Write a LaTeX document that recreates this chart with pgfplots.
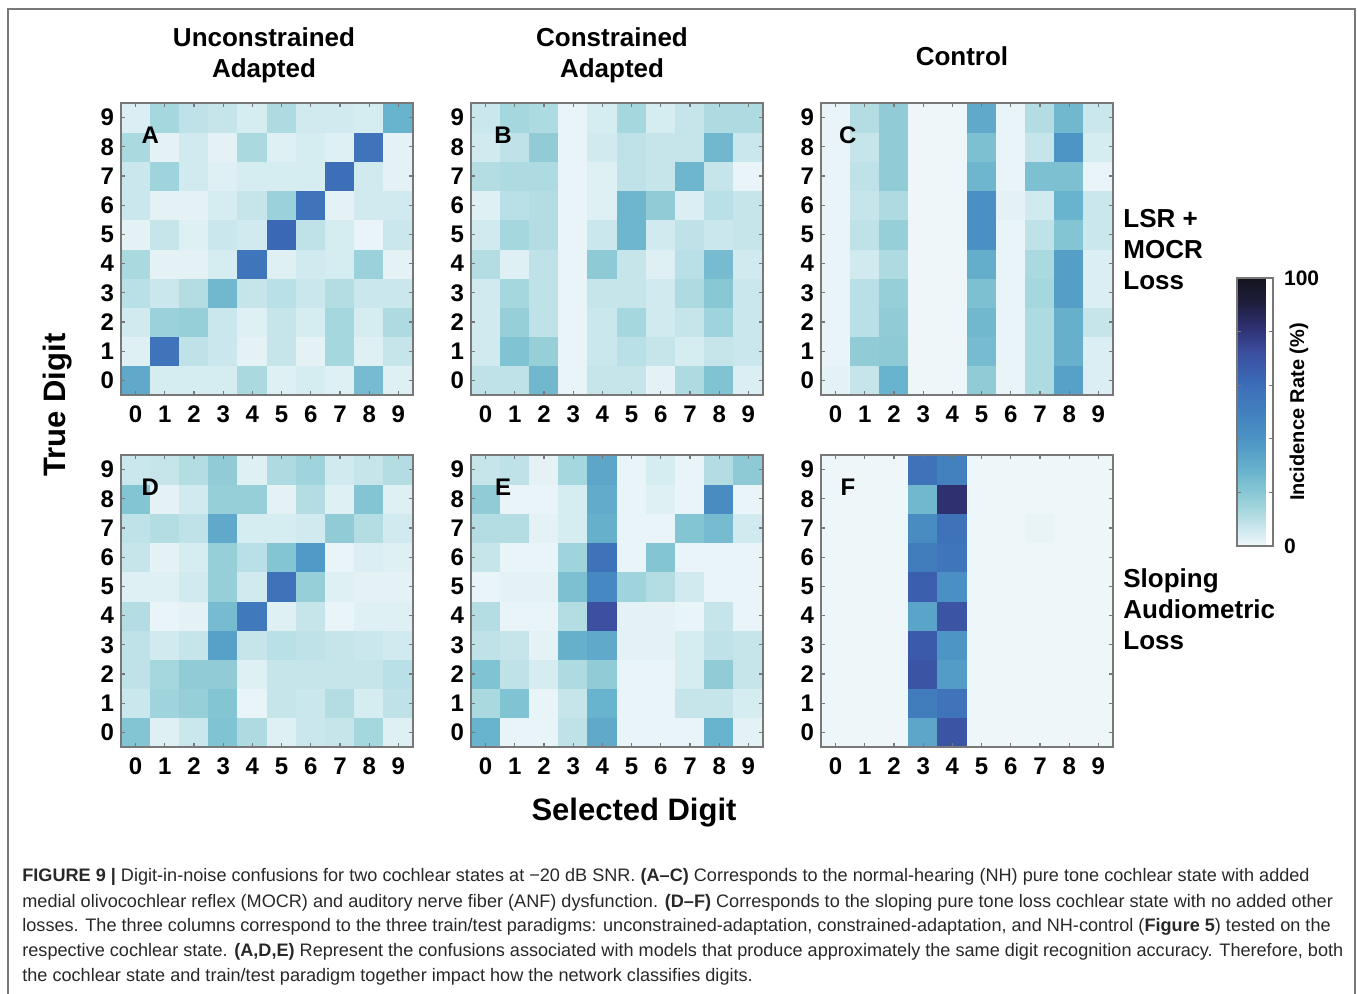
\documentclass[border=0pt]{standalone}
\usepackage{pgfplots}
\pgfplotsset{compat=1.18}
\usepackage{pgfplotstable}
\usepackage{fontspec}
\setmainfont{Liberation Sans}
\definecolor{framec}{RGB}{120,120,120}
\definecolor{captxt}{RGB}{40,40,40}

\pgfplotstableread[row sep=\\]{x y c\\
0 0 32\\ 1 0 5\\ 2 0 5\\ 3 0 5\\ 4 0 13\\ 5 0 3\\ 6 0 5\\ 7 0 3\\ 8 0 25\\ 9 0 3\\
0 1 3\\ 1 1 57\\ 2 1 9\\ 3 1 7\\ 4 1 2\\ 5 1 8\\ 6 1 2\\ 7 1 14\\ 8 1 3\\ 9 1 8\\
0 2 6\\ 1 2 16\\ 2 2 17\\ 3 2 7\\ 4 2 3\\ 5 2 8\\ 6 2 5\\ 7 2 14\\ 8 2 5\\ 9 2 12\\
0 3 10\\ 1 3 7\\ 2 3 11\\ 3 3 26\\ 4 3 8\\ 5 3 10\\ 6 3 7\\ 7 3 11\\ 8 3 7\\ 9 3 7\\
0 4 13\\ 1 4 2\\ 2 4 2\\ 3 4 5\\ 4 4 56\\ 5 4 3\\ 6 4 6\\ 7 4 5\\ 8 4 16\\ 9 4 2\\
0 5 2\\ 1 5 8\\ 2 5 3\\ 3 5 7\\ 4 5 6\\ 5 5 62\\ 6 5 9\\ 7 5 5\\ 8 5 1\\ 9 5 7\\
0 6 7\\ 1 6 2\\ 2 6 2\\ 3 6 5\\ 4 6 8\\ 5 6 16\\ 6 6 57\\ 7 6 2\\ 8 6 6\\ 9 6 6\\
0 7 7\\ 1 7 15\\ 2 7 6\\ 3 7 3\\ 4 7 5\\ 5 7 5\\ 6 7 5\\ 7 7 59\\ 8 7 6\\ 9 7 2\\
0 8 13\\ 1 8 2\\ 2 8 6\\ 3 8 2\\ 4 8 13\\ 5 8 3\\ 6 8 5\\ 7 8 3\\ 8 8 57\\ 9 8 2\\
0 9 4\\ 1 9 14\\ 2 9 9\\ 3 9 8\\ 4 9 5\\ 5 9 12\\ 6 9 6\\ 7 9 6\\ 8 9 5\\ 9 9 28\\
}\tabA

\pgfplotstableread[row sep=\\]{x y c\\
0 0 9\\ 1 0 9\\ 2 0 26\\ 3 0 1\\ 4 0 8\\ 5 0 8\\ 6 0 2\\ 7 0 12\\ 8 0 22\\ 9 0 4\\
0 1 6\\ 1 1 22\\ 2 1 17\\ 3 1 1\\ 4 1 7\\ 5 1 10\\ 6 1 8\\ 7 1 5\\ 8 1 8\\ 9 1 7\\
0 2 6\\ 1 2 17\\ 2 2 9\\ 3 2 1\\ 4 2 7\\ 5 2 14\\ 6 2 6\\ 7 2 8\\ 8 2 15\\ 9 2 7\\
0 3 6\\ 1 3 14\\ 2 3 9\\ 3 3 1\\ 4 3 8\\ 5 3 8\\ 6 3 6\\ 7 3 12\\ 8 3 20\\ 9 3 7\\
0 4 11\\ 1 4 3\\ 2 4 9\\ 3 4 1\\ 4 4 19\\ 5 4 8\\ 6 4 3\\ 7 4 10\\ 8 4 25\\ 9 4 6\\
0 5 6\\ 1 5 14\\ 2 5 11\\ 3 5 1\\ 4 5 7\\ 5 5 27\\ 6 5 6\\ 7 5 9\\ 8 5 7\\ 9 5 8\\
0 6 3\\ 1 6 10\\ 2 6 11\\ 3 6 1\\ 4 6 3\\ 5 6 27\\ 6 6 18\\ 7 6 4\\ 8 6 10\\ 9 6 8\\
0 7 11\\ 1 7 12\\ 2 7 12\\ 3 7 1\\ 4 7 3\\ 5 7 9\\ 6 7 8\\ 7 7 27\\ 8 7 8\\ 9 7 1\\
0 8 6\\ 1 8 9\\ 2 8 18\\ 3 8 1\\ 4 8 6\\ 5 8 9\\ 6 8 8\\ 7 8 8\\ 8 8 26\\ 9 8 7\\
0 9 7\\ 1 9 14\\ 2 9 12\\ 3 9 1\\ 4 9 5\\ 5 9 14\\ 6 9 5\\ 7 9 8\\ 8 9 12\\ 9 9 12\\
}\tabB

\pgfplotstableread[row sep=\\]{x y c\\
0 0 2\\ 1 0 8\\ 2 0 28\\ 3 0 0\\ 4 0 0\\ 5 0 18\\ 6 0 1\\ 7 0 12\\ 8 0 35\\ 9 0 4\\
0 1 1\\ 1 1 18\\ 2 1 19\\ 3 1 0\\ 4 1 0\\ 5 1 25\\ 6 1 1\\ 7 1 12\\ 8 1 29\\ 9 1 4\\
0 2 1\\ 1 2 10\\ 2 2 18\\ 3 2 0\\ 4 2 0\\ 5 2 26\\ 6 2 1\\ 7 2 12\\ 8 2 29\\ 9 2 8\\
0 3 1\\ 1 3 10\\ 2 3 17\\ 3 3 0\\ 4 3 0\\ 5 3 23\\ 6 3 1\\ 7 3 14\\ 8 3 36\\ 9 3 4\\
0 4 1\\ 1 4 6\\ 2 4 12\\ 3 4 0\\ 4 4 0\\ 5 4 30\\ 6 4 1\\ 7 4 13\\ 8 4 36\\ 9 4 4\\
0 5 1\\ 1 5 9\\ 2 5 17\\ 3 5 0\\ 4 5 0\\ 5 5 42\\ 6 5 1\\ 7 5 9\\ 8 5 21\\ 9 5 7\\
0 6 1\\ 1 6 8\\ 2 6 12\\ 3 6 0\\ 4 6 0\\ 5 6 42\\ 6 6 2\\ 7 6 6\\ 8 6 28\\ 9 6 7\\
0 7 1\\ 1 7 9\\ 2 7 18\\ 3 7 0\\ 4 7 0\\ 5 7 27\\ 6 7 1\\ 7 7 23\\ 8 7 23\\ 9 7 1\\
0 8 1\\ 1 8 8\\ 2 8 18\\ 3 8 0\\ 4 8 0\\ 5 8 23\\ 6 8 1\\ 7 8 8\\ 8 8 40\\ 9 8 5\\
0 9 1\\ 1 9 11\\ 2 9 18\\ 3 9 0\\ 4 9 0\\ 5 9 32\\ 6 9 1\\ 7 9 11\\ 8 9 26\\ 9 9 7\\
}\tabC

\pgfplotstableread[row sep=\\]{x y c\\
0 0 21\\ 1 0 3\\ 2 0 7\\ 3 0 22\\ 4 0 12\\ 5 0 3\\ 6 0 7\\ 7 0 8\\ 8 0 14\\ 9 0 3\\
0 1 7\\ 1 1 15\\ 2 1 17\\ 3 1 21\\ 4 1 1\\ 5 1 8\\ 6 1 7\\ 7 1 11\\ 8 1 5\\ 9 1 9\\
0 2 9\\ 1 2 14\\ 2 2 18\\ 3 2 18\\ 4 2 3\\ 5 2 8\\ 6 2 8\\ 7 2 8\\ 8 2 8\\ 9 2 10\\
0 3 9\\ 1 3 6\\ 2 3 8\\ 3 3 35\\ 4 3 8\\ 5 3 10\\ 6 3 9\\ 7 3 8\\ 8 3 7\\ 9 3 6\\
0 4 11\\ 1 4 1\\ 2 4 2\\ 3 4 25\\ 4 4 54\\ 5 4 3\\ 6 4 8\\ 7 4 1\\ 8 4 3\\ 9 4 3\\
0 5 3\\ 1 5 3\\ 2 5 6\\ 3 5 17\\ 4 5 6\\ 5 5 58\\ 6 5 17\\ 7 5 3\\ 8 5 2\\ 9 5 2\\
0 6 8\\ 1 6 2\\ 2 6 5\\ 3 6 17\\ 4 6 10\\ 5 6 21\\ 6 6 38\\ 7 6 1\\ 8 6 4\\ 9 6 3\\
0 7 9\\ 1 7 11\\ 2 7 9\\ 3 7 32\\ 4 7 5\\ 5 7 5\\ 6 7 6\\ 7 7 18\\ 8 7 11\\ 9 7 6\\
0 8 21\\ 1 8 2\\ 2 8 6\\ 3 8 17\\ 4 8 17\\ 5 8 2\\ 6 8 11\\ 7 8 3\\ 8 8 21\\ 9 8 3\\
0 9 7\\ 1 9 8\\ 2 9 11\\ 3 9 18\\ 4 9 3\\ 5 9 12\\ 6 9 15\\ 7 9 6\\ 8 9 8\\ 9 9 11\\
}\tabD

\pgfplotstableread[row sep=\\]{x y c\\
0 0 28\\ 1 0 1\\ 2 0 1\\ 3 0 9\\ 4 0 32\\ 5 0 1\\ 6 0 1\\ 7 0 1\\ 8 0 28\\ 9 0 2\\
0 1 13\\ 1 1 22\\ 2 1 1\\ 3 1 8\\ 4 1 28\\ 5 1 1\\ 6 1 1\\ 7 1 8\\ 8 1 8\\ 9 1 5\\
0 2 22\\ 1 2 9\\ 2 2 5\\ 3 2 12\\ 4 2 18\\ 5 2 1\\ 6 2 1\\ 7 2 5\\ 8 2 18\\ 9 2 8\\
0 3 9\\ 1 3 8\\ 2 3 2\\ 3 3 29\\ 4 3 32\\ 5 3 2\\ 6 3 2\\ 7 3 5\\ 8 3 9\\ 9 3 8\\
0 4 11\\ 1 4 1\\ 2 4 1\\ 3 4 11\\ 4 4 72\\ 5 4 2\\ 6 4 2\\ 7 4 1\\ 8 4 8\\ 9 4 1\\
0 5 1\\ 1 5 2\\ 2 5 2\\ 3 5 23\\ 4 5 46\\ 5 5 15\\ 6 5 11\\ 7 5 6\\ 8 5 1\\ 9 5 1\\
0 6 8\\ 1 6 1\\ 2 6 1\\ 3 6 15\\ 4 6 58\\ 5 6 1\\ 6 6 21\\ 7 6 1\\ 8 6 1\\ 9 6 1\\
0 7 11\\ 1 7 11\\ 2 7 2\\ 3 7 5\\ 4 7 29\\ 5 7 1\\ 6 7 1\\ 7 7 21\\ 8 7 25\\ 9 7 6\\
0 8 18\\ 1 8 1\\ 2 8 1\\ 3 8 5\\ 4 8 31\\ 5 8 1\\ 6 8 3\\ 7 8 1\\ 8 8 44\\ 9 8 1\\
0 9 8\\ 1 9 9\\ 2 9 2\\ 3 9 14\\ 4 9 33\\ 5 9 1\\ 6 9 5\\ 7 9 1\\ 8 9 11\\ 9 9 19\\
}\tabE

\pgfplotstableread[row sep=\\]{x y c\\
0 0 0\\ 1 0 0\\ 2 0 0\\ 3 0 33\\ 4 0 70\\ 5 0 0\\ 6 0 0\\ 7 0 0\\ 8 0 0\\ 9 0 0\\
0 1 0\\ 1 1 0\\ 2 1 0\\ 3 1 52\\ 4 1 57\\ 5 1 0\\ 6 1 0\\ 7 1 0\\ 8 1 0\\ 9 1 0\\
0 2 0\\ 1 2 0\\ 2 2 0\\ 3 2 70\\ 4 2 37\\ 5 2 0\\ 6 2 0\\ 7 2 0\\ 8 2 0\\ 9 2 0\\
0 3 0\\ 1 3 0\\ 2 3 0\\ 3 3 67\\ 4 3 40\\ 5 3 0\\ 6 3 0\\ 7 3 0\\ 8 3 0\\ 9 3 0\\
0 4 0\\ 1 4 0\\ 2 4 0\\ 3 4 34\\ 4 4 70\\ 5 4 0\\ 6 4 0\\ 7 4 0\\ 8 4 0\\ 9 4 0\\
0 5 0\\ 1 5 0\\ 2 5 0\\ 3 5 66\\ 4 5 42\\ 5 5 0\\ 6 5 0\\ 7 5 0\\ 8 5 0\\ 9 5 0\\
0 6 0\\ 1 6 0\\ 2 6 0\\ 3 6 52\\ 4 6 56\\ 5 6 0\\ 6 6 0\\ 7 6 0\\ 8 6 0\\ 9 6 0\\
0 7 0\\ 1 7 0\\ 2 7 0\\ 3 7 44\\ 4 7 58\\ 5 7 0\\ 6 7 0\\ 7 7 1\\ 8 7 0\\ 9 7 0\\
0 8 0\\ 1 8 0\\ 2 8 0\\ 3 8 26\\ 4 8 82\\ 5 8 0\\ 6 8 0\\ 7 8 0\\ 8 8 0\\ 9 8 0\\
0 9 0\\ 1 9 0\\ 2 9 0\\ 3 9 58\\ 4 9 50\\ 5 9 0\\ 6 9 0\\ 7 9 0\\ 8 9 0\\ 9 9 0\\
}\tabF

\pgfplotsset{
  colormap={ice}{
    rgb255(0pt)=(237,246,248)
    rgb255(2pt)=(228,242,246)
    rgb255(5pt)=(213,236,241)
    rgb255(8pt)=(197,229,235)
    rgb255(11pt)=(179,221,227)
    rgb255(14pt)=(165,215,222)
    rgb255(18pt)=(145,204,214)
    rgb255(22pt)=(128,195,211)
    rgb255(25pt)=(118,187,208)
    rgb255(28pt)=(104,179,205)
    rgb255(32pt)=(96,169,202)
    rgb255(36pt)=(84,158,200)
    rgb255(42pt)=(74,144,196)
    rgb255(50pt)=(66,128,190)
    rgb255(57pt)=(63,116,186)
    rgb255(62pt)=(58,104,181)
    rgb255(72pt)=(60,79,160)
    rgb255(82pt)=(46,48,112)
    rgb255(91pt)=(30,30,60)
    rgb255(100pt)=(20,20,30)
  },
  hm/.style={
    scale only axis, width=146pt, height=146pt, anchor=north west,
    xmin=-0.5, xmax=9.5, ymin=-0.5, ymax=9.5,
    xtick={0,...,9}, ytick={0,...,9},
    tick align=inside, tick pos=both, major tick length=2pt,
    axis line style={draw=framec, line width=0.75pt},
    tick style={draw=framec, line width=0.6pt},
    ticklabel style={font=\fontsize{12}{12}\selectfont\bfseries},
    xticklabel style={yshift=-2pt},
    /pgf/number format/assume math mode=true,
    point meta min=0, point meta max=100, colormap name=ice,
    axis on top,
  },
}
\tikzset{panlab/.style={font=\fontsize{12}{12}\selectfont\bfseries}}
\newcommand{\hmplot}[1]{\addplot[matrix plot*, mesh/cols=10, point meta=explicit] table[x=x, y=y, meta=c]{#1};}

\begin{document}
\begin{tikzpicture}
\useasboundingbox (0,0) rectangle (678.5pt,-497pt);
\draw[framec, line width=0.6pt] (4pt,-497pt) -- (4pt,-4.5pt) -- (677.5pt,-4.5pt) -- (677.5pt,-497pt);

\begin{axis}[hm, at={(60.5pt,-51.5pt)}]
\hmplot{\tabA}
\node[panlab] at (axis cs:0.5,8.4) {A};
\end{axis}
\begin{axis}[hm, at={(235.5pt,-51.5pt)}]
\hmplot{\tabB}
\node[panlab] at (axis cs:0.6,8.4) {B};
\end{axis}
\begin{axis}[hm, at={(410.5pt,-51.5pt)},
  colorbar,
  colorbar style={
    at={(parent axis.north east)}, anchor=north west,
    xshift=53.5pt, yshift=-87.5pt,
    scale only axis, width=18pt, height=134pt,
    ytick={0,100}, extra y ticks={20,40,60,80}, extra y tick labels={},
    tick align=inside, major tick length=2pt,
    axis line style={draw=framec, line width=0.6pt},
    tick style={draw=framec, line width=0.5pt},
    yticklabel style={font=\fontsize{10.5}{10.5}\selectfont\bfseries, xshift=2pt},
    /pgf/number format/assume math mode=true,
    ylabel={Incidence Rate (\%)},
    ylabel style={at={(axis description cs:1.72,0.5)}, anchor=center, font=\fontsize{10}{10}\selectfont\bfseries},
  }]
\hmplot{\tabC}
\node[panlab] at (axis cs:0.42,8.4) {C};
\end{axis}
\begin{axis}[hm, at={(60.5pt,-227.5pt)}]
\hmplot{\tabD}
\node[panlab] at (axis cs:0.5,8.4) {D};
\end{axis}
\begin{axis}[hm, at={(235.5pt,-227.5pt)}]
\hmplot{\tabE}
\node[panlab] at (axis cs:0.6,8.4) {E};
\end{axis}
\begin{axis}[hm, at={(410.5pt,-227.5pt)}]
\hmplot{\tabF}
\node[panlab] at (axis cs:0.42,8.4) {F};
\end{axis}

\tikzset{ttl/.style={font=\fontsize{13}{15.5}\selectfont\bfseries, align=center}}
\node[ttl] at (132pt,-27.75pt) {Unconstrained\\Adapted};
\node[ttl] at (306pt,-27.75pt) {Constrained\\Adapted};
\node[ttl] at (481pt,-28pt) {Control};
\node[ttl, anchor=west, align=left, inner sep=0pt] at (561.5pt,-125pt) {LSR +\\MOCR\\Loss};
\node[ttl, anchor=west, align=left, inner sep=0pt] at (561.5pt,-304.5pt) {Sloping\\Audiometric\\Loss};
\node[font=\fontsize{15.5}{15.5}\selectfont\bfseries, rotate=90] at (29pt,-202.5pt) {True Digit};
\node[font=\fontsize{15.5}{15.5}\selectfont\bfseries] at (317pt,-406.5pt) {Selected Digit};

\tikzset{captline/.style={anchor=base west, inner sep=0pt, text=captxt, font=\fontsize{9.05}{9.05}\selectfont}}
\node[captline] at (11pt,-441pt) {\textbf{FIGURE 9 |} Digit-in-noise confusions for two cochlear states at −20 dB SNR. \textbf{(A–C)} Corresponds to the normal-hearing (NH) pure tone cochlear state with added};
\node[captline] at (11pt,-453.5pt) {medial olivocochlear reflex (MOCR) and auditory nerve fiber (ANF) dysfunction. \textbf{(D–F)} Corresponds to the sloping pure tone loss cochlear state with no added other};
\node[captline] at (11pt,-466pt) {losses. The three columns correspond to the three train/test paradigms: unconstrained-adaptation, constrained-adaptation, and NH-control (\textbf{Figure 5}) tested on the};
\node[captline] at (11pt,-478.5pt) {respective cochlear state. \textbf{(A,D,E)} Represent the confusions associated with models that produce approximately the same digit recognition accuracy. Therefore, both};
\node[captline] at (11pt,-491pt) {the cochlear state and train/test paradigm together impact how the network classifies digits.};
\end{tikzpicture}
\end{document}
